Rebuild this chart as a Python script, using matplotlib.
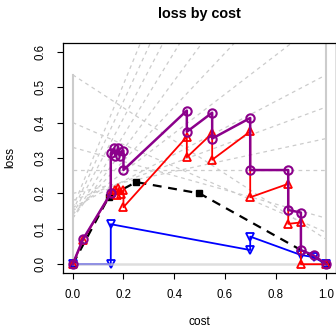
import matplotlib
matplotlib.use("Agg")
import matplotlib.pyplot as plt

# cost-curve reference lines: (loss at cost 0, loss at cost 1)
line_left = [0.535, 0.40, 0.33, 0.266, 0.20, 0.18, 0.16, 0.15, 0.14, 0.13, 0.13, 0.14, 0.15, 0.16]
line_right = [0.07, 0.09, 0.13, 0.266, 0.355, 0.444, 0.535, 0.70, 0.90, 1.10, 1.30, 1.50, 1.70, 1.90]

# black dashed envelope
black_x = [0.0, 0.143, 0.25, 0.50, 1.0]
black_y = [0.0, 0.191, 0.232, 0.20, 0.0]

# blue series
blue_x = [0.0, 0.15, 0.15, 0.70, 0.70, 0.90, 0.95, 1.0]
blue_y = [0.0, 0.0, 0.113, 0.040, 0.078, 0.026, 0.020, 0.0]

# red series
red_x = [0.0, 0.04, 0.15, 0.165, 0.175, 0.18, 0.19, 0.20, 0.20, 0.45, 0.45, 0.55, 0.55,
         0.70, 0.70, 0.85, 0.85, 0.90, 0.90, 1.0]
red_y = [0.0, 0.068, 0.20, 0.21, 0.196, 0.215, 0.197, 0.21, 0.161, 0.36, 0.302, 0.37, 0.295,
         0.375, 0.189, 0.227, 0.114, 0.118, 0.0, 0.0]

# purple series
purple_x = [0.0, 0.04, 0.15, 0.15, 0.163, 0.168, 0.178, 0.185, 0.20, 0.20, 0.45, 0.45, 0.55,
            0.55, 0.70, 0.70, 0.85, 0.85, 0.90, 0.90, 0.95, 1.0]
purple_y = [0.0, 0.07, 0.20, 0.313, 0.327, 0.305, 0.328, 0.307, 0.321, 0.266, 0.434, 0.374,
            0.428, 0.355, 0.413, 0.266, 0.266, 0.153, 0.146, 0.040, 0.025, 0.0]

fig = plt.figure(figsize=(3.36, 3.29), dpi=100)
ax = fig.add_axes([62.6 / 336, 1 - 272.7 / 329, 273.8 / 336, (272.7 - 43.3) / 329])

ax.set_xlim(-0.04, 1.04)
ax.set_ylim(-0.024, 0.624)

gray = "#cccccc"
for a, b in zip(line_left, line_right):
    ax.plot([0, 1], [a, b], color=gray, lw=0.9, ls=(0, (3, 3)), zorder=1)
ax.plot([0, 0], [0, max(line_left)], color=gray, lw=1.5, zorder=1)
ax.plot([1, 1], [0, 1], color=gray, lw=1.5, zorder=1)

ax.plot(black_x, black_y, color="black", lw=1.6, ls=(0, (4, 3)), marker="s", ms=4.5,
        zorder=2)
ax.plot(blue_x, blue_y, color="blue", lw=1.3, marker="v", ms=6, mfc="none", mew=1.3,
        zorder=3)
ax.plot([0, 1], [0, 0], color="#d0d0d0", lw=1.8, alpha=0.7, zorder=3.5)
ax.plot(red_x, red_y, color="red", lw=1.3, marker="^", ms=6, mfc="none", mew=1.3,
        zorder=4)
ax.plot(purple_x, purple_y, color="#8B008B", lw=1.8, marker="o", ms=6, mfc="none",
        mew=1.5, zorder=5)

ax.set_xticks([0, 0.2, 0.4, 0.6, 0.8, 1.0])
ax.set_xticklabels(["0.0", "0.2", "0.4", "0.6", "0.8", "1.0"])
ax.set_yticks([0, 0.1, 0.2, 0.3, 0.4, 0.5, 0.6])
ax.set_yticklabels(["0.0", "0.1", "0.2", "0.3", "0.4", "0.5", "0.6"], rotation=90,
                   va="center")
ax.tick_params(labelsize=8.3, length=4.5, width=0.8, direction="out", pad=7)
for lab in ax.get_xticklabels() + ax.get_yticklabels():
    lab.set_fontfamily("Liberation Sans")
for s in ax.spines.values():
    s.set_linewidth(0.9)

fig.text(0.5 * (62.6 + 336) / 336, 1 - 14 / 329, "loss by cost", ha="center", va="center",
         fontsize=10.4, fontweight="bold", family="Liberation Sans")
fig.text((62.6 + 336) / 2 / 336, 1 - 322 / 329, "cost", ha="center", va="center",
         fontsize=8.6, family="Liberation Sans")
fig.text(10 / 336, 1 - 158 / 329, "loss", ha="center", va="center", rotation=90,
         fontsize=8.6, family="Liberation Sans")

fig.savefig("out.png", dpi=100)
